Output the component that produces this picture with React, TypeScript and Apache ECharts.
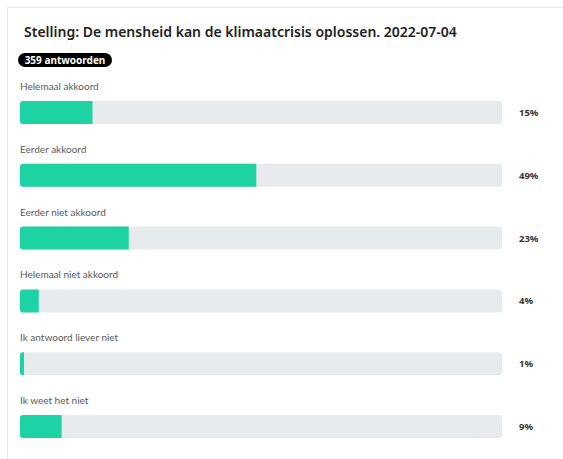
import React, { useEffect, useRef } from "react";
import * as echarts from "echarts";

const TITLE = "Stelling: De mensheid kan de klimaatcrisis oplossen. 2022-07-04";
const TOTAL = 359;
const categories = [
  "Helemaal akkoord",
  "Eerder akkoord",
  "Eerder niet akkoord",
  "Helemaal niet akkoord",
  "Ik antwoord liever niet",
  "Ik weet het niet",
];
const counts = [54, 176, 81, 14, 3, 31];
const percentLabels = ["15%", "49%", "23%", "4%", "1%", "9%"];

const FONT = "'Noto Sans', 'Open Sans', sans-serif";
const LABEL_FONT = "Lato, 'Noto Sans', sans-serif";

export default function App() {
  const ref = useRef<HTMLDivElement>(null);
  useEffect(() => {
    if (!ref.current) return;
    const chart = echarts.init(ref.current, null, { renderer: "svg" });
    const pct = counts.map((c) => (c / TOTAL) * 100);
    chart.setOption({
      animation: false,
      backgroundColor: "#ffffff",
      textStyle: { fontFamily: FONT },
      title: {
        text: TITLE,
        left: 19,
        top: 19,
        textStyle: { fontFamily: FONT, fontSize: 14, fontWeight: 600, color: "#222" },
      },
      graphic: [
        {
          type: "rect",
          shape: { x: 7.5, y: 7.5, width: 700, height: 600 },
          style: { fill: "none", stroke: "#e6e6e6", lineWidth: 1 },
          silent: true,
        },
        {
          type: "group",
          left: 18,
          top: 53,
          children: [
            {
              type: "rect",
              shape: { x: 0, y: 0, width: 94, height: 14, r: 7 },
              style: { fill: "#000" },
            },
            {
              type: "text",
              x: 47,
              y: 7,
              style: {
                text: `${TOTAL} antwoorden`,
                fill: "#fff",
                font: `bold 10px ${FONT}`,
                align: "center",
                verticalAlign: "middle",
              },
            },
          ],
        },
      ],
      grid: { left: 20, right: 61, top: 81, bottom: 1 },
      xAxis: {
        type: "value",
        min: 0,
        max: 100,
        show: false,
      },
      yAxis: {
        type: "category",
        data: categories,
        inverse: true,
        show: false,
      },
      series: [
        {
          type: "bar",
          data: categories.map(() => 100),
          barWidth: 23,
          barGap: "-100%",
          itemStyle: { color: "#e8ebee", borderRadius: 3 },
          silent: true,
          label: {
            show: true,
            position: [0, -15],
            verticalAlign: "middle",
            formatter: (p: any) => categories[p.dataIndex],
            fontFamily: LABEL_FONT,
            fontSize: 10,
            color: "#5a5a5a",
          },
          z: 1,
        },
        {
          type: "bar",
          data: categories.map(() => 100),
          barWidth: 23,
          barGap: "-100%",
          itemStyle: { color: "transparent" },
          silent: true,
          label: {
            show: true,
            position: "right",
            distance: 17,
            formatter: (p: any) => percentLabels[p.dataIndex],
            fontFamily: FONT,
            fontSize: 9.5,
            fontWeight: "bold",
            color: "#333",
          },
          z: 1,
        },
        {
          type: "bar",
          data: pct,
          barWidth: 23,
          barGap: "-100%",
          itemStyle: { color: "#1ed3a3", borderRadius: [3, 0, 0, 3] },
          z: 2,
        },
      ],
    });
    return () => chart.dispose();
  }, []);
  return (
    <div
      ref={ref}
      style={{ position: "absolute", left: 0, top: 0, width: 563, height: 459 }}
    />
  );
}
